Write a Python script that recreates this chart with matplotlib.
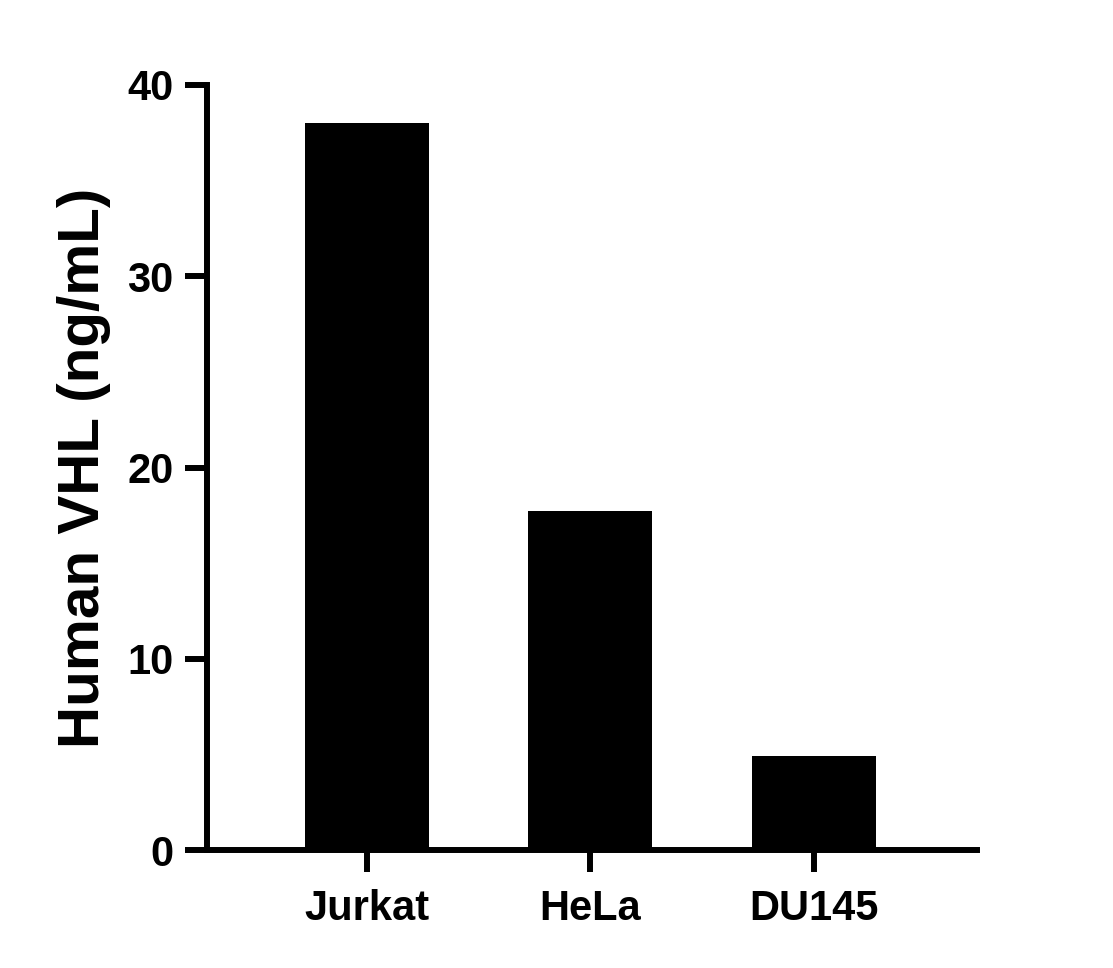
import matplotlib
matplotlib.use('Agg')
from matplotlib import pyplot as plt

cells = ['Jurkat', 'HeLa', 'DU145']
vhl = [38.0, 17.7, 4.9]
yticks = [0, 10, 20, 30, 40]

plt.rcParams['font.family'] = ['Liberation Sans', 'DejaVu Sans']
plt.rcParams['font.weight'] = 'bold'

fig = plt.figure(figsize=(11.13, 9.68), dpi=100)
ax = fig.add_axes([207 / 1113, 1 - 850 / 968, (977 - 207) / 1113, (850 - 85) / 968])

x = range(len(cells))
ax.bar(x, vhl, width=0.555, color='black')

ax.set_xlim(-0.716, 2.73)
ax.set_ylim(0, 40)
ax.set_yticks(yticks)
ax.set_xticks(list(x))
ax.set_xticklabels(cells)

for s in ['top', 'right']:
    ax.spines[s].set_visible(False)
for s in ['left', 'bottom']:
    ax.spines[s].set_linewidth(4.3)
    ax.spines[s].set_capstyle('projecting')

ax.tick_params(width=4.3, length=16, labelsize=30, pad=8)
ax.tick_params(axis='x', pad=12)
for lab in ax.get_xticklabels() + ax.get_yticklabels():
    lab.set_fontweight('bold')

ax.set_ylabel('Human VHL (ng/mL)', fontsize=42, fontweight='bold', labelpad=12)

fig.savefig('out.png', dpi=100)
